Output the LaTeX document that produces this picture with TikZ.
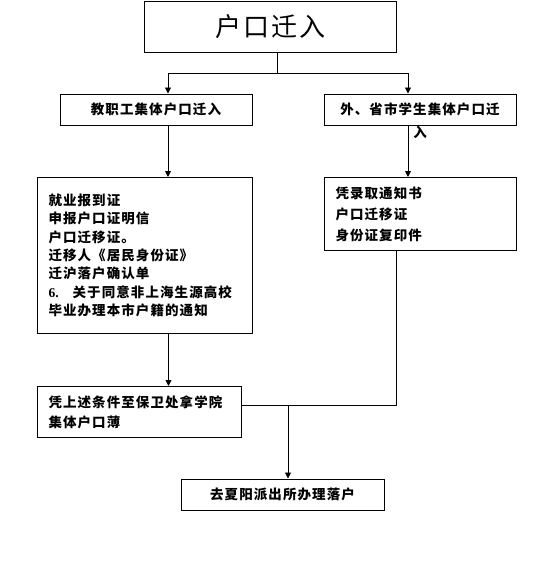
\documentclass[tikz,border=0pt]{standalone}
\usepackage{fontspec}
\setmainfont{Liberation Serif}
\newfontfamily\cjk[LetterSpace=8]{Noto Sans CJK SC}
\newcommand\boxfont{\cjk\bfseries\fontsize{13.5}{18.4}\selectfont}
\usetikzlibrary{arrows.meta}

\begin{document}
\begin{tikzpicture}[x=1pt, y=-1pt, line width=0.9pt,
    box/.style={draw, line width=1pt, inner sep=0pt, font=\boxfont},
    doc/.style={box, anchor=north west, align=left, inner xsep=11pt},
    arr/.style={-{Triangle[width=6pt,length=6pt]}}]
    \useasboundingbox (0,0) rectangle (553,584);
    % boxes
    \node[box, minimum width=252pt, minimum height=51pt, font=\cjk\fontsize{26}{30}\selectfont] (top) at (270.5,27) {户口迁入};
    \node[box, minimum width=192pt, minimum height=31pt] (jzg) at (156,109.5) {教职工集体户口迁入};
    \node[box, minimum width=192pt, minimum height=31pt,
          label={[font=\boxfont, inner sep=0pt]below:入}] (wsd) at (420,109.5) {外、省市学生集体户口迁};
    \node[doc, text width=193pt, minimum height=156pt] (jzgdoc) at (37,177)
        {就业报到证\\申报户口证明信\\户口迁移证。\\迁移人《居民身份证》\\迁沪落户确认单\\{\rmfamily 6.}\hspace{14pt}关于同意非上海生源高校\\毕业办理本市户籍的通知};
    \node[doc, text width=170pt, minimum height=73pt, font=\cjk\bfseries\fontsize{13.5}{21}\selectfont] (wsddoc) at (324,177)
        {凭录取通知书\\户口迁移证\\身份证复印件};
    \node[doc, text width=182pt, minimum height=51pt, font=\cjk\bfseries\fontsize{13.5}{20}\selectfont] (hkb) at (37,386)
        {凭上述条件至保卫处拿学院\\集体户口薄};
    \node[box, minimum width=203pt, minimum height=31pt] (lh) at (282.5,494.5) {去夏阳派出所办理落户};
    % connectors
    \coordinate (fork) at (277,73);
    \coordinate (join) at (288,405);
    \draw (top.south -| fork) -- (fork);
    \draw[arr] (fork) -| ([xshift=12pt]jzg.north);
    \draw[arr] (fork) -| ([xshift=-12pt]wsd.north);
    \draw[arr] ([xshift=12pt]jzg.south) -- ([xshift=12pt]jzg.south |- jzgdoc.north);
    \draw[arr] ([xshift=-12pt]wsd.south) -- ([xshift=-12pt]wsd.south |- wsddoc.north);
    \draw[arr] ([xshift=23.5pt]jzgdoc.south) -- ([xshift=23.5pt]jzgdoc.south |- hkb.north);
    \draw ([xshift=-24pt]wsddoc.south) |- (join -| hkb.east);
    \draw[arr] (join) -- (join |- lh.north);
\end{tikzpicture}
\end{document}
